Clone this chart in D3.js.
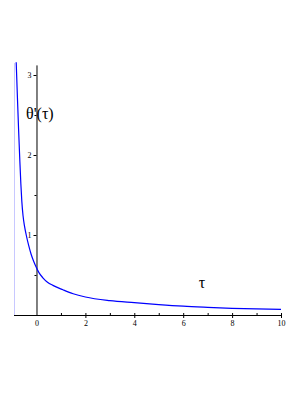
<!DOCTYPE html>
<html>
<head>
  <script src="https://d3js.org/d3.v7.min.js"></script>
  <style>
    body { margin: 0; background: #fff; }
    .tick-label { font-family: 'Liberation Serif', 'Times New Roman', serif; font-size: 8px; fill: #000; }
    .axis-title { font-family: 'Liberation Serif', 'Times New Roman', serif; font-size: 16px; fill: #000; }
  </style>
</head>
<body>
  <svg id="chart" width="306" height="396"></svg>
  <script>
    // curve samples
    const tau = [-0.83, -0.78, -0.73, -0.68, -0.64, -0.6, -0.55, -0.49, -0.42, -0.32, -0.22, -0.1, 0, 0.1, 0.26, 0.45, 0.67, 1.08, 1.5, 2, 3, 4, 5, 6, 7, 8, 9, 10];
    const theta = [3.16, 2.72, 2.3, 1.92, 1.64, 1.42, 1.24, 1.11, 1.0, 0.87, 0.76, 0.66, 0.59, 0.53, 0.465, 0.41, 0.37, 0.315, 0.265, 0.225, 0.18, 0.154, 0.13, 0.11, 0.096, 0.084, 0.076, 0.07];
    const xMajor = [0, 2, 4, 6, 8, 10];
    const xMinor = [1, 3, 5, 7, 9];
    const yMajor = [1, 2, 3];
    const yMinor = [0.5, 1.5, 2.5];
    const asymptoteX = -0.92;

    const svg = d3.select("#chart");
    const x = d3.scaleLinear().domain([-0.92, 10]).range([14, 281]);
    const y = d3.scaleLinear().domain([0, 3.15]).range([315, 63]);

    // faint vertical line at the left edge
    svg.append("line")
      .attr("x1", x(asymptoteX) + 0.5).attr("x2", x(asymptoteX) + 0.5)
      .attr("y1", y(3.15)).attr("y2", y(0))
      .attr("stroke", "#c8c8ff").attr("stroke-width", 1);

    // axes
    svg.append("line")
      .attr("x1", x(-0.92)).attr("x2", x(10))
      .attr("y1", y(0) + 0.5).attr("y2", y(0) + 0.5)
      .attr("stroke", "#000").attr("stroke-width", 1);
    svg.append("line")
      .attr("x1", x(0) + 0.5).attr("x2", x(0) + 0.5)
      .attr("y1", y(3.12)).attr("y2", y(0))
      .attr("stroke", "#000").attr("stroke-width", 1);

    // x ticks
    svg.selectAll(".xmaj").data(xMajor.filter(d => d !== 0)).enter().append("line")
      .attr("x1", d => x(d) + 0.5).attr("x2", d => x(d) + 0.5)
      .attr("y1", y(0) - 2).attr("y2", y(0) + 3)
      .attr("stroke", "#000");
    svg.selectAll(".xmin").data(xMinor).enter().append("line")
      .attr("x1", d => x(d) + 0.5).attr("x2", d => x(d) + 0.5)
      .attr("y1", y(0) - 2).attr("y2", y(0))
      .attr("stroke", "#000");
    svg.selectAll(".xlab").data(xMajor).enter().append("text")
      .attr("class", "tick-label")
      .attr("x", d => x(d) + 0.5).attr("y", y(0) + 11)
      .attr("text-anchor", "middle")
      .text(d => d);

    // y ticks
    svg.selectAll(".ymaj").data(yMajor).enter().append("line")
      .attr("x1", x(0) - 3).attr("x2", x(0))
      .attr("y1", d => y(d) + 0.5).attr("y2", d => y(d) + 0.5)
      .attr("stroke", "#000");
    svg.selectAll(".ymin").data(yMinor).enter().append("line")
      .attr("x1", x(0) - 2).attr("x2", x(0))
      .attr("y1", d => y(d) + 0.5).attr("y2", d => y(d) + 0.5)
      .attr("stroke", "#000");
    svg.selectAll(".ylab").data(yMajor).enter().append("text")
      .attr("class", "tick-label")
      .attr("x", x(0) - 5).attr("y", d => y(d) + 3)
      .attr("text-anchor", "end")
      .text(d => d);

    // curve
    const line = d3.line()
      .x((d, i) => x(tau[i]))
      .y(d => y(d))
      .curve(d3.curveMonotoneX);
    svg.append("path")
      .datum(theta)
      .attr("d", line)
      .attr("fill", "none")
      .attr("stroke", "#0000ff")
      .attr("stroke-width", 1.2);

    // axis titles
    svg.append("text").attr("class", "axis-title")
      .attr("x", 26).attr("y", 119)
      .text("θ'(τ)");
    svg.append("text").attr("class", "axis-title")
      .attr("x", 202).attr("y", 288)
      .attr("text-anchor", "middle")
      .text("τ");
  </script>
</body>
</html>
